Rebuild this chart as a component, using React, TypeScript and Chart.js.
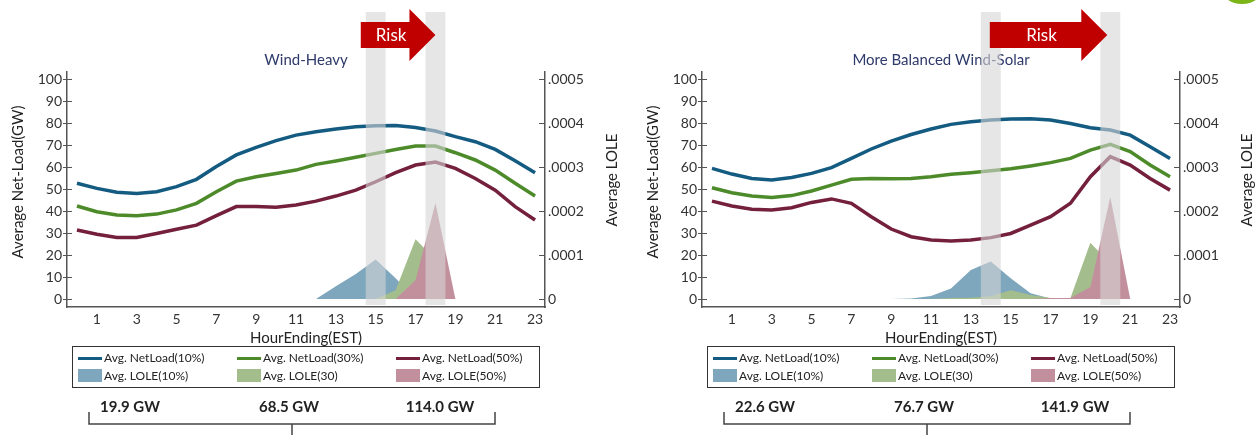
import React, { useEffect, useRef } from 'react';
import { Chart, registerables } from 'chart.js';

Chart.register(...registerables);

// ---------- data ----------
const HOURS = [0, 1, 2, 3, 4, 5, 6, 7, 8, 9, 10, 11, 12, 13, 14, 15, 16, 17, 18, 19, 20, 21, 22, 23];
const HOUR_TICKS_SHOWN = [1, 3, 5, 7, 9, 11, 13, 15, 17, 19, 21, 23];
const NET_TICKS = [0, 10, 20, 30, 40, 50, 60, 70, 80, 90, 100];
const LOLE_TICKS = [0, 0.0001, 0.0002, 0.0003, 0.0004, 0.0005];
const LOLE_TICK_LABELS = ['0', '.0001', '.0002', '.0003', '.0004', '.0005'];

const NET_LABELS = ['Avg. NetLoad(10%)', 'Avg. NetLoad(30%)', 'Avg. NetLoad(50%)'];
const LOLE_LABELS = ['Avg. LOLE(10%)', 'Avg. LOLE(30)', 'Avg. LOLE(50%)'];

// Wind-Heavy
const WIND_NET10 = [52.6, 50.3, 48.5, 48.0, 48.8, 51.1, 54.4, 60.2, 65.5, 68.9, 72.0, 74.5, 76.0, 77.3, 78.3, 78.8, 78.9, 78.0, 76.4, 73.8, 71.5, 68.0, 62.9, 57.4];
const WIND_NET30 = [42.3, 39.7, 38.2, 37.9, 38.6, 40.5, 43.5, 48.8, 53.6, 55.6, 57.1, 58.6, 61.2, 62.7, 64.4, 66.2, 68.0, 69.5, 69.5, 66.5, 63.2, 58.6, 52.6, 46.8];
const WIND_NET50 = [31.4, 29.4, 28.0, 28.0, 29.8, 31.7, 33.6, 37.9, 42.0, 42.0, 41.7, 42.7, 44.5, 46.8, 49.5, 53.3, 57.4, 60.9, 62.3, 59.4, 54.8, 49.5, 42.0, 35.9];
const WIND_LOLE10 = [0, 0, 0, 0, 0, 0, 0, 0, 0, 0, 0, 0, 0, 0.000029, 0.000057, 0.000090, 0.000047, 0, 0, 0, 0, 0, 0, 0];
const WIND_LOLE30 = [0, 0, 0, 0, 0, 0, 0, 0, 0, 0, 0, 0, 0, 0, 0, 0, 0.000020, 0.000136, 0.000090, 0, 0, 0, 0, 0];
const WIND_LOLE50 = [0, 0, 0, 0, 0, 0, 0, 0, 0, 0, 0, 0, 0, 0, 0, 0, 0, 0.000043, 0.000218, 0, 0, 0, 0, 0];
const WIND_RISK_HOURS = [15, 18];
const WIND_BOTTOM = ['19.9 GW', '68.5 GW', '114.0 GW'];

// More Balanced Wind-Solar
const BAL_NET10 = [59.4, 56.8, 54.8, 54.1, 55.2, 57.1, 59.7, 63.9, 68.2, 71.8, 74.8, 77.3, 79.4, 80.6, 81.4, 81.8, 82.0, 81.4, 79.8, 77.9, 76.8, 74.5, 69.2, 63.9];
const BAL_NET30 = [50.6, 48.3, 46.8, 46.2, 47.0, 49.1, 51.8, 54.4, 54.8, 54.7, 54.8, 55.6, 56.7, 57.4, 58.3, 59.2, 60.5, 62.0, 63.9, 67.7, 70.3, 67.0, 60.9, 55.6];
const BAL_NET50 = [44.5, 42.3, 40.8, 40.5, 41.5, 43.9, 45.5, 43.5, 37.4, 31.8, 28.3, 26.8, 26.4, 26.8, 27.9, 29.8, 33.6, 37.4, 43.5, 55.6, 64.7, 60.9, 54.8, 49.5];
const BAL_LOLE10 = [0, 0, 0, 0, 0, 0, 0, 0, 0, 0, 0.000001, 0.000007, 0.000024, 0.000066, 0.000085, 0.000047, 0.000013, 0.000001, 0, 0, 0, 0, 0, 0];
const BAL_LOLE30 = [0, 0, 0, 0, 0, 0, 0, 0, 0, 0, 0, 0, 0.000002, 0.000003, 0.000006, 0.000020, 0.000009, 0.000002, 0.000002, 0.000128, 0.000080, 0, 0, 0];
const BAL_LOLE50 = [0, 0, 0, 0, 0, 0, 0, 0, 0, 0, 0, 0, 0, 0, 0, 0, 0, 0.000002, 0.000002, 0.000027, 0.000232, 0, 0, 0];
const BAL_RISK_HOURS = [14, 20];
const BAL_BOTTOM = ['22.6 GW', '76.7 GW', '141.9 GW'];

// ---------- styles ----------
const FONT = 'Lato, "Open Sans", sans-serif';
const LINE_COLORS = ['#145b82', '#4d8b2a', '#74203c'];
const AREA_COLORS = ['#7ea6bd', '#a3be8c', '#c2909d'];
const AXIS_COLOR = '#555555';
const TEXT_COLOR = '#222222';
const TITLE_COLOR = '#2e3a6a';
const RISK_RED = '#c00000';

type Panel = {
  title: string;
  net: number[][];
  lole: number[][];
  riskHours: number[];
  arrowFrom: number;
  arrowTo: number;
  bottom: string[];
  width: number;
  logo: boolean;
};

const WIND_PANEL: Panel = {
  title: 'Wind-Heavy',
  net: [WIND_NET10, WIND_NET30, WIND_NET50],
  lole: [WIND_LOLE10, WIND_LOLE30, WIND_LOLE50],
  riskHours: WIND_RISK_HOURS,
  arrowFrom: 14.25,
  arrowTo: 18,
  bottom: WIND_BOTTOM,
  width: 635,
  logo: false,
};

const BAL_PANEL: Panel = {
  title: 'More Balanced Wind-Solar',
  net: [BAL_NET10, BAL_NET30, BAL_NET50],
  lole: [BAL_LOLE10, BAL_LOLE30, BAL_LOLE50],
  riskHours: BAL_RISK_HOURS,
  arrowFrom: 13.95,
  arrowTo: 19.85,
  bottom: BAL_BOTTOM,
  width: 623,
  logo: true,
};

function makeConfig(p: Panel): any {
  const datasets: any[] = [];
  p.net.forEach((vals, i) => {
    datasets.push({
      label: NET_LABELS[i],
      data: vals,
      yAxisID: 'y',
      borderColor: LINE_COLORS[i],
      backgroundColor: LINE_COLORS[i],
      borderWidth: 3.5,
      pointRadius: 0,
      tension: 0,
      fill: false,
      order: 0,
    });
  });
  p.lole.forEach((vals, i) => {
    datasets.push({
      label: LOLE_LABELS[i],
      data: vals,
      yAxisID: 'y1',
      borderColor: AREA_COLORS[i],
      backgroundColor: AREA_COLORS[i],
      borderWidth: 0,
      pointRadius: 0,
      tension: 0,
      fill: 'origin',
      order: 3 - i,
    });
  });

  const xAt = (chart: any, h: number) => {
    const xs = chart.scales.x;
    const x0 = xs.getPixelForValue(0);
    const x1 = xs.getPixelForValue(1);
    return x0 + h * (x1 - x0);
  };

  const decor = {
    id: 'decor',
    beforeDatasetsDraw(chart: any) {
      const ctx = chart.ctx;
      const ca = chart.chartArea;
      ctx.save();
      ctx.font = `15px ${FONT}`;
      ctx.fillStyle = TITLE_COLOR;
      ctx.textAlign = 'center';
      ctx.textBaseline = 'middle';
      ctx.fillText(p.title, (ca.left + ca.right) / 2, 60);
      ctx.restore();
    },
    afterDatasetsDraw(chart: any) {
      const ctx = chart.ctx;
      const ca = chart.chartArea;
      ctx.save();
      // risk bands
      ctx.fillStyle = 'rgba(213,213,213,0.6)';
      p.riskHours.forEach((h) => {
        const a = xAt(chart, h - 0.5);
        const b = xAt(chart, h + 0.5);
        ctx.fillRect(a, 12, b - a, ca.bottom - 2 - 12);
      });
      // risk arrow
      const x0 = xAt(chart, p.arrowFrom);
      const tip = xAt(chart, p.arrowTo);
      const headLen = 26;
      const cy = 35;
      ctx.fillStyle = RISK_RED;
      ctx.beginPath();
      ctx.moveTo(x0, cy - 13);
      ctx.lineTo(tip - headLen, cy - 13);
      ctx.lineTo(tip - headLen, cy - 26);
      ctx.lineTo(tip, cy);
      ctx.lineTo(tip - headLen, cy + 26);
      ctx.lineTo(tip - headLen, cy + 13);
      ctx.lineTo(x0, cy + 13);
      ctx.closePath();
      ctx.fill();
      ctx.fillStyle = '#ffffff';
      ctx.font = `17px ${FONT}`;
      ctx.textAlign = 'center';
      ctx.textBaseline = 'middle';
      ctx.fillText('Risk', (x0 + tip - headLen) / 2 + 6, cy + 1);
      ctx.restore();
    },
    afterDraw(chart: any) {
      const ctx = chart.ctx;
      const ca = chart.chartArea;
      const ys = chart.scales.y;
      const y1s = chart.scales.y1;
      ctx.save();
      // tick marks
      ctx.strokeStyle = AXIS_COLOR;
      ctx.lineWidth = 1;
      NET_TICKS.forEach((v) => {
        const y = Math.round(ys.getPixelForValue(v)) + 0.5;
        ctx.beginPath();
        ctx.moveTo(ca.left - 4, y);
        ctx.lineTo(ca.left + 5, y);
        ctx.stroke();
      });
      LOLE_TICKS.forEach((v) => {
        const y = Math.round(y1s.getPixelForValue(v)) + 0.5;
        ctx.beginPath();
        ctx.moveTo(ca.right - 6, y);
        ctx.lineTo(ca.right, y);
        ctx.stroke();
      });
      // axis titles
      ctx.fillStyle = TEXT_COLOR;
      ctx.font = `15px ${FONT}`;
      ctx.textAlign = 'center';
      ctx.textBaseline = 'middle';
      ctx.fillText('HourEnding(EST)', (ca.left + ca.right) / 2, 338);
      ctx.save();
      ctx.translate(18, 182);
      ctx.rotate(-Math.PI / 2);
      ctx.fillText('Average Net-Load(GW)', 0, 0);
      ctx.restore();
      ctx.save();
      ctx.translate(ca.right + 67, 180);
      ctx.rotate(-Math.PI / 2);
      ctx.fillText('Average LOLE', 0, 0);
      ctx.restore();

      // legend
      const lx = ca.left + 5;
      const rx = ca.right - 6;
      ctx.strokeStyle = '#333333';
      ctx.lineWidth = 1;
      ctx.strokeRect(lx + 0.5, 346.5, rx - lx, 41);
      ctx.font = `12px ${FONT}`;
      ctx.textAlign = 'left';
      ctx.textBaseline = 'middle';
      for (let i = 0; i < 3; i++) {
        const sx = lx + 6 + 159 * i;
        ctx.fillStyle = LINE_COLORS[i];
        ctx.fillRect(sx, 357, 24, 3);
        ctx.fillStyle = AREA_COLORS[i];
        ctx.fillRect(sx, 369, 24, 13);
        ctx.fillStyle = TEXT_COLOR;
        ctx.fillText(chart.data.datasets[i].label, sx + 26, 358.5);
        ctx.fillText(chart.data.datasets[i + 3].label, sx + 26, 376);
      }

      // bottom labels and bracket
      ctx.font = `bold 15px ${FONT}`;
      ctx.textAlign = 'center';
      const centers = [63, 222, 373];
      p.bottom.forEach((t, i) => ctx.fillText(t, ca.left + centers[i], 407));
      ctx.strokeStyle = '#444444';
      ctx.lineWidth = 1.5;
      const bl = ca.left + 22;
      const br = ca.left + 428;
      const bc = ca.left + 225;
      ctx.beginPath();
      ctx.moveTo(bl, 412);
      ctx.lineTo(bl, 424);
      ctx.lineTo(br, 424);
      ctx.lineTo(br, 412);
      ctx.moveTo(bc, 424);
      ctx.lineTo(bc, 436);
      ctx.stroke();

      if (p.logo) {
        ctx.fillStyle = '#7cb518';
        ctx.beginPath();
        ctx.ellipse(chart.width - 16, -14, 22, 18, 0, 0, Math.PI * 2);
        ctx.fill();
      }
      ctx.restore();
    },
  };

  return {
    type: 'line',
    data: { labels: HOURS.map(String), datasets },
    options: {
      responsive: false,
      animation: false,
      devicePixelRatio: 1,
      layout: { padding: { left: 0, right: 0, top: 72, bottom: 88 } },
      plugins: { legend: { display: false }, tooltip: { enabled: false } },
      scales: {
        x: {
          type: 'category',
          offset: true,
          grid: { display: false, drawTicks: false },
          border: { display: true, color: AXIS_COLOR, width: 1.5 },
          ticks: {
            autoSkip: false,
            maxRotation: 0,
            padding: 4,
            color: '#333333',
            font: { family: FONT, size: 14 },
            callback: (_v: any, i: number) => (HOUR_TICKS_SHOWN.includes(HOURS[i]) ? String(HOURS[i]) : ''),
          },
          afterFit: (s: any) => {
            s.height = 40;
          },
        },
        y: {
          position: 'left',
          min: -3.64,
          max: 103.2,
          grid: { display: false, drawTicks: false },
          border: { display: true, color: AXIS_COLOR, width: 1.5 },
          ticks: { padding: 5, color: '#333333', font: { family: FONT, size: 14 } },
          afterBuildTicks: (s: any) => {
            s.ticks = NET_TICKS.map((v) => ({ value: v }));
          },
          afterFit: (s: any) => {
            s.width = 67;
          },
        },
        y1: {
          position: 'right',
          min: -0.0000182,
          max: 0.000516,
          grid: { display: false, drawTicks: false },
          border: { display: true, color: AXIS_COLOR, width: 1.5 },
          ticks: {
            padding: 3,
            color: '#333333',
            font: { family: FONT, size: 14 },
            callback: (_v: any, i: number) => LOLE_TICK_LABELS[i],
          },
          afterBuildTicks: (s: any) => {
            s.ticks = LOLE_TICKS.map((v) => ({ value: v }));
          },
          afterFit: (s: any) => {
            s.width = p.width - 545;
          },
        },
      },
    },
    plugins: [decor],
  };
}

export default function App() {
  const r1 = useRef<HTMLCanvasElement>(null);
  const r2 = useRef<HTMLCanvasElement>(null);

  useEffect(() => {
    const c1 = new Chart(r1.current as HTMLCanvasElement, makeConfig(WIND_PANEL));
    const c2 = new Chart(r2.current as HTMLCanvasElement, makeConfig(BAL_PANEL));
    return () => {
      c1.destroy();
      c2.destroy();
    };
  }, []);

  return (
    <div style={{ position: 'absolute', left: 0, top: 0, width: 1258, height: 435, background: '#ffffff', overflow: 'hidden' }}>
      <canvas ref={r1} width={635} height={435} style={{ position: 'absolute', left: 0, top: 0, width: 635, height: 435 }} />
      <canvas ref={r2} width={623} height={435} style={{ position: 'absolute', left: 635, top: 0, width: 623, height: 435 }} />
    </div>
  );
}
